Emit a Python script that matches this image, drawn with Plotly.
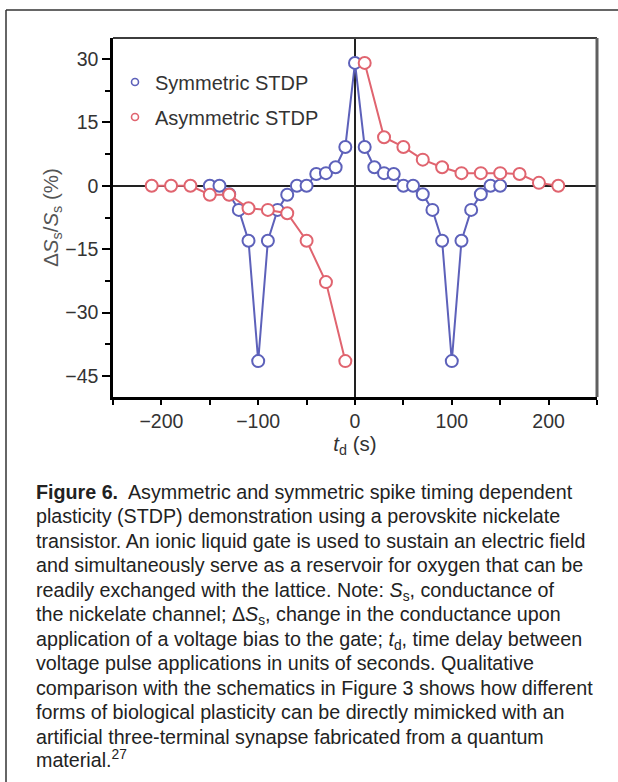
import plotly.graph_objects as go

# ---- data ----
sym_t = [-150, -140, -130, -120, -110, -100, -90, -80, -70, -60, -50, -40, -30, -20, -10, 0,
         10, 20, 30, 40, 50, 60, 70, 80, 90, 100, 110, 120, 130, 140, 150]
sym_v = [0, 0, -2.0, -5.7, -13.0, -41.5, -13.0, -5.7, -2.1, 0, 0, 2.8, 3.0, 4.4, 9.2, 29.1,
         9.2, 4.4, 3.0, 2.8, 0, 0, -2.0, -5.7, -13.0, -41.5, -13.0, -5.7, -2.0, 0, 0]

asym_left_t = [-210, -190, -170, -150, -130, -110, -90, -70, -50, -30, -10]
asym_left_v = [0, 0, 0, -2.1, -2.1, -5.3, -5.7, -6.5, -13.0, -22.8, -41.5]
asym_right_t = [10, 30, 50, 70, 90, 110, 130, 150, 170, 190, 210]
asym_right_v = [29.1, 11.5, 9.2, 6.2, 4.4, 3.0, 3.0, 3.0, 2.8, 0.7, 0]

series_names = ["Symmetric STDP", "Asymmetric STDP"]
x_ticks = [-200, -100, 0, 100, 200]
y_ticks = [30, 15, 0, -15, -30, -45]

caption_lines = [
    "<b>Figure 6.</b>  Asymmetric and symmetric spike timing dependent",
    "plasticity (STDP) demonstration using a perovskite nickelate",
    "transistor. An ionic liquid gate is used to sustain an electric field",
    "and simultaneously serve as a reservoir for oxygen that can be",
    "readily exchanged with the lattice. Note: <i>S</i><sub>s</sub>, conductance of",
    "the nickelate channel; Δ<i>S</i><sub>s</sub>, change in the conductance upon",
    "application of a voltage bias to the gate; <i>t</i><sub>d</sub>, time delay between",
    "voltage pulse applications in units of seconds. Qualitative",
    "comparison with the schematics in Figure 3 shows how different",
    "forms of biological plasticity can be directly mimicked with an",
    "artificial three-terminal synapse fabricated from a quantum",
    "material.<sup>27</sup>",
]

BLUE = "#5d61ba"
RED = "#e0646f"
FONT = "Liberation Sans, Arial, Helvetica, sans-serif"

W, H = 618, 782
L, R, T, B = 113, 21, 38, 385
PW, PH = W - L - R, H - T - B


def px(x):
    return (x - L) / PW


def py(y):
    return (H - B - y) / PH


fig = go.Figure()

mk = lambda c: dict(symbol="circle", size=12, color="white", line=dict(color=c, width=2))

fig.add_trace(go.Scatter(x=sym_t, y=sym_v, mode="lines+markers", showlegend=False,
                         line=dict(color=BLUE, width=2), marker=mk(BLUE)))
fig.add_trace(go.Scatter(x=asym_left_t, y=asym_left_v, mode="lines+markers", showlegend=False,
                         line=dict(color=RED, width=2), marker=mk(RED)))
fig.add_trace(go.Scatter(x=asym_right_t, y=asym_right_v, mode="lines+markers", showlegend=False,
                         line=dict(color=RED, width=2), marker=mk(RED)))

# legend entries
fig.add_trace(go.Scatter(x=[None], y=[None], mode="markers", name=series_names[0], legend="legend",
                         marker=dict(symbol="circle-open", size=7, color=BLUE, line=dict(width=1.6))))
fig.add_trace(go.Scatter(x=[None], y=[None], mode="markers", name=series_names[1], legend="legend2",
                         marker=dict(symbol="circle-open", size=7, color=RED, line=dict(width=1.6))))

leg_common = dict(xanchor="left", yanchor="middle", bgcolor="rgba(0,0,0,0)",
                  font=dict(family=FONT, size=20, color="#333"), itemwidth=30)

axis_common = dict(showgrid=False, showline=True, linecolor="black", linewidth=2.5,
                   ticks="outside", tickcolor="black", tickwidth=2,
                   tickfont=dict(family=FONT, size=19.5, color="#333"),
                   zeroline=True, zerolinecolor="#222", zerolinewidth=2)

fig.update_layout(
    width=W, height=H,
    margin=dict(l=L, r=R, t=T, b=B),
    paper_bgcolor="white", plot_bgcolor="white",
    font=dict(family=FONT, color="#333"),
    xaxis=dict(range=[-250, 250], tickvals=x_ticks, ticklen=5,
               minor=dict(dtick=50, tick0=0, ticks="outside", ticklen=5, tickwidth=2, tickcolor="black"),
               title=dict(text="<i>t</i><sub>d</sub> (s)", font=dict(family=FONT, size=20.5, color="#333"),
                          standoff=6),
               **axis_common),
    yaxis=dict(range=[-50, 35], tickvals=y_ticks, ticklen=8,
               minor=dict(dtick=7.5, tick0=0, ticks="outside", ticklen=5, tickwidth=2, tickcolor="black"),
               title=dict(text="Δ<i>S</i><sub>s</sub>/<i>S</i><sub>s</sub> (%)",
                          font=dict(family=FONT, size=20.5, color="#555"), standoff=2),
               **axis_common),
    legend=dict(x=px(115), y=py(82), **leg_common),
    legend2=dict(x=px(115), y=py(117), **leg_common),
)

# plot frame: top and right edges
fig.add_shape(type="line", xref="paper", yref="paper", x0=0, x1=1, y0=1, y1=1,
              line=dict(color="#3c3c3c", width=2))
fig.add_shape(type="line", xref="paper", yref="paper", x0=1, x1=1, y0=0, y1=1,
              line=dict(color="#606060", width=3))

# outer frame (top and left)
fig.add_shape(type="line", xref="paper", yref="paper", x0=px(6), x1=px(618), y0=py(10), y1=py(10),
              line=dict(color="#333", width=1.5))
fig.add_shape(type="line", xref="paper", yref="paper", x0=px(6), x1=px(6), y0=py(10), y1=py(782),
              line=dict(color="#333", width=1.5))

# caption, one annotation per line
CAP_SIZE = 19.7
for i, line in enumerate(caption_lines):
    center = 492 + 24.45 * i
    top = center - 13.0
    if "<sup>" in line:
        top -= 3
    fig.add_annotation(xref="paper", yref="paper", x=px(34), y=py(top), xanchor="left", yanchor="top",
                       align="left", showarrow=False, text=line,
                       font=dict(family=FONT, size=CAP_SIZE, color="#222"))

fig.write_html("out.html")
